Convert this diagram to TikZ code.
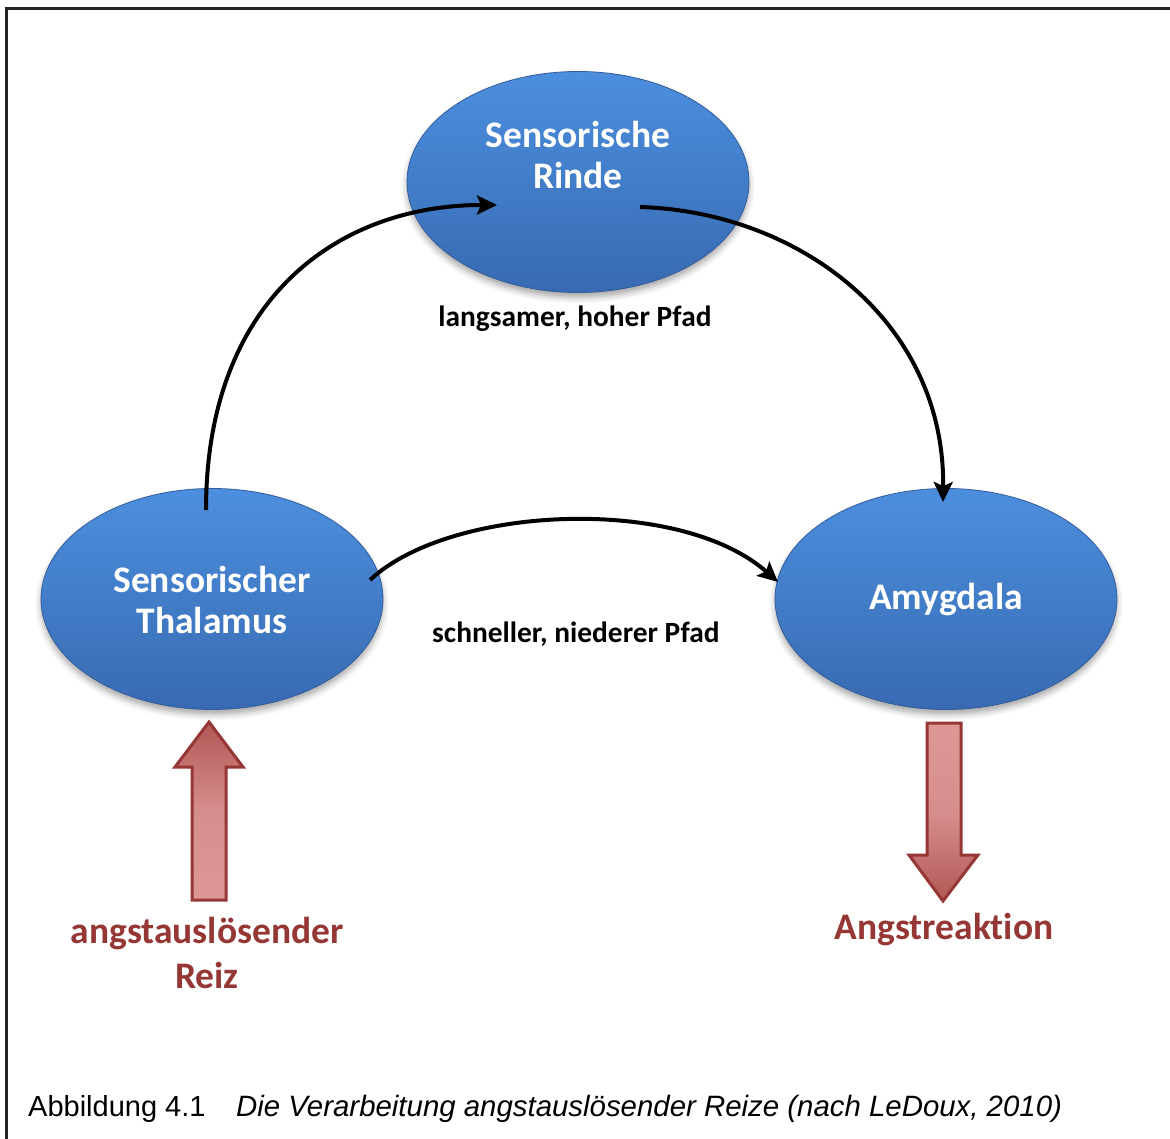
\documentclass[tikz,border=0pt]{standalone}
\usepackage{fontspec}
\setmainfont{Carlito}[Ligatures=NoCommon]
\newfontfamily\capfont{Liberation Sans}
\usetikzlibrary{shapes.geometric,arrows.meta,shadows.blur}
\definecolor{ovaltop}{RGB}{76,143,222}
\definecolor{ovalbot}{RGB}{56,106,178}
\definecolor{ovalrim}{RGB}{50,92,155}
\definecolor{reizred}{RGB}{149,55,53}
\definecolor{pinklight}{RGB}{221,152,150}
\definecolor{pinkdark}{RGB}{178,88,86}
\begin{document}
\begin{tikzpicture}[x=1pt,y=-1pt,
  oval/.style={ellipse, minimum width=342pt, minimum height=221pt, inner sep=0pt,
    top color=ovaltop, bottom color=ovalbot, draw=ovalrim, line width=0.8pt,
    blur shadow={shadow xshift=0pt, shadow yshift=-5pt, shadow blur radius=6pt, shadow opacity=35}},
  ovaltext/.style={text=white, font=\bfseries\fontsize{37.5}{41}\selectfont, align=center, inner sep=0pt},
  link/.style={line width=4pt, -{Stealth[length=20pt,width=19pt,inset=4pt]}},
  pathlabel/.style={font=\bfseries\fontsize{29.4}{33}\selectfont, text=black},
  redlabel/.style={font=\bfseries\fontsize{37.5}{45}\selectfont, text=reizred, align=center},
  blockarrow/.style={draw=reizred, line width=3pt, line join=miter}
]
\useasboundingbox (0,0) rectangle (1170,1139);

% outer frame
\draw[line width=3pt, black!85] (1180,9) -- (6,9) -- (6,1150);

% the three regions
\node[oval] (rinde) at (578,182) {};
\node[oval] (thal) at (212,599) {};
\node[oval] (amyg) at (946,599) {};
\node[ovaltext] (rindetext) at ([shift={(0,-27)}]rinde.center) {Sensorische\\Rinde};
\node[ovaltext] (thaltext) at ([shift={(0,1)}]thal.center) {Sensorischer\\Thalamus};
\node[ovaltext] (amygtext) at ([shift={(0,1)}]amyg.center) {Amygdala};

% slow, high route over the cortex
\draw[link] ([shift={(-6,-89)}]thal.center) .. controls +(0,-210) and +(-160,0) .. ([shift={(-81,23)}]rinde.center);
\draw[link] ([shift={(62,25)}]rinde.center) .. controls +(160,5) and +(2,-180) .. ([shift={(-3,-97)}]amyg.center);
\node[pathlabel] (slow) at (575,319) {langsamer, hoher Pfad};

% fast, low route
\draw[link] ([shift={(158,-19)}]thal.center) .. controls +(80,-75) and +(-98,-87) .. ([shift={(-168,-17)}]amyg.center);
\node[pathlabel] (fast) at (576,634) {schneller, niederer Pfad};

% stimulus in, reaction out
\path[blockarrow, top color=pinkdark, bottom color=pinklight, middle color=pinklight!85!pinkdark]
  (209,722) -- (243,767) -- (226,767) -- (226,900) -- (192,900) -- (192,767) -- (175,767) -- cycle;
\path[blockarrow, top color=pinklight, bottom color=pinkdark, middle color=pinklight!85!pinkdark]
  (943,901) -- (978,855) -- (961,855) -- (961,723) -- (927,723) -- (927,855) -- (909,855) -- cycle;

\node[redlabel] (reiz) at (207,953) {angstauslösender\\Reiz};
\node[redlabel] (angst) at (944,930) {Angstreaktion};

% caption
\node[anchor=base west, inner sep=0pt, font=\capfont\fontsize{29}{34}\selectfont] (capnum) at (28,1116) {Abbildung 4.1};
\node[anchor=base west, inner sep=0pt, font=\capfont\itshape\fontsize{29.4}{34}\selectfont] (captext) at (236,1116) {Die Verarbeitung angstauslösender Reize (nach LeDoux, 2010)};
\end{tikzpicture}
\end{document}
